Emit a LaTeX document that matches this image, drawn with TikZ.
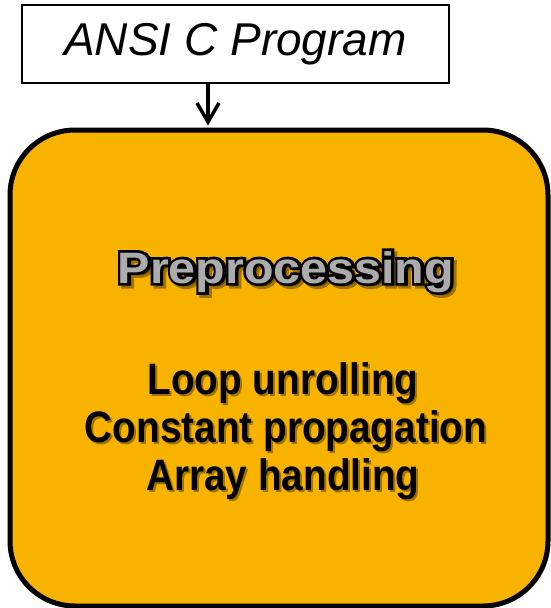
\documentclass[tikz,border=0pt]{standalone}
\usepackage{fontspec}
\setmainfont{Liberation Sans}
\newfontfamily\titleoutline{Liberation Sans Bold}[FakeBold=12]
\usetikzlibrary{arrows.meta}
\definecolor{boxfill}{RGB}{248,178,0}
\definecolor{titlegray}{RGB}{172,172,172}
\begin{document}
\begin{tikzpicture}[x=1pt,y=-1pt,
  srcbox/.style={draw=black, line width=1.5pt, fill=white, minimum width=427pt,
    minimum height=78pt, inner sep=0pt, font=\itshape\fontsize{46}{52}\selectfont},
  stagebox/.style={draw=black, line width=5pt, fill=boxfill, rounded corners=65pt,
    minimum width=538pt, minimum height=476pt, inner sep=0pt},
  titletext/.style={anchor=base, inner sep=0pt, font=\bfseries\fontsize{44}{50}\selectfont},
  itemtext/.style={anchor=base, inner sep=0pt, font=\bfseries\fontsize{44}{47}\selectfont},
  shade/.style={text=black, text opacity=0.35},
  flow/.style={line width=4pt, -{Straight Barb[length=19pt, width=22pt, line width=3.5pt]}}
]
\useasboundingbox (0,0) rectangle (550,608);

% input program and preprocessing stage
\node[srcbox] (src) at (235.5,44) {ANSI C Program};
\node[stagebox] (pre) at (279,368) {};

% connector into the stage
\coordinate (out) at ([xshift=-27.5pt]src.south);
\draw[flow, shorten >=2pt] (out) -- (out |- pre.north);

% stage title: shadow, thick black outline, grey face
\node[titletext, shade] (titleshadow) at (289,286)
  {\scalebox{1.1}[1]{\titleoutline Preprocessing}};
\node[titletext] (titleedge) at (286,283)
  {\scalebox{1.1}[1]{\titleoutline Preprocessing}};
\node[titletext, text=titlegray] (title) at (286,283)
  {\scalebox{1.1}[1]{Preprocessing}};

% list of steps with drop shadows
\node[itemtext, shade] (s1) at (285,396.5) {\scalebox{0.88}[1]{Loop unrolling}};
\node[itemtext, shade] (s2) at (288,444.5) {\scalebox{0.88}[1]{Constant propagation}};
\node[itemtext, shade] (s3) at (285,492.5) {\scalebox{0.88}[1]{Array handling}};
\node[itemtext] (l1) at (283,394) {\scalebox{0.88}[1]{Loop unrolling}};
\node[itemtext] (l2) at (286,442) {\scalebox{0.88}[1]{Constant propagation}};
\node[itemtext] (l3) at (283,490) {\scalebox{0.88}[1]{Array handling}};
\end{tikzpicture}
\end{document}
